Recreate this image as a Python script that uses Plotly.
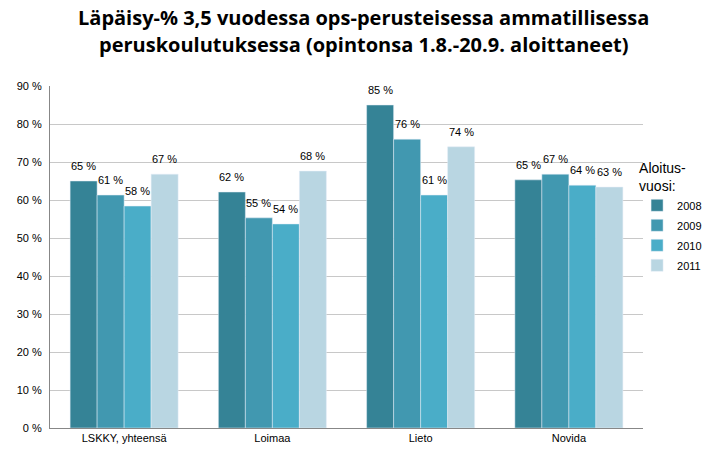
import plotly.graph_objects as go

categories = ["LSKKY, yhteensä", "Loimaa", "Lieto", "Novida"]
years = ["2008", "2009", "2010", "2011"]
values_2008 = [65.0, 62.1, 85.0, 65.3]
values_2009 = [61.3, 55.3, 76.0, 66.8]
values_2010 = [58.4, 53.7, 61.3, 63.9]
values_2011 = [66.8, 67.6, 74.0, 63.4]
series = [values_2008, values_2009, values_2010, values_2011]
colors = ["#358396", "#4198B0", "#4AADC8", "#B9D6E2"]
tick_vals = [0, 10, 20, 30, 40, 50, 60, 70, 80, 90]
tick_text = [f"{v} %" for v in tick_vals]
title_lines = ["Läpäisy-% 3,5 vuodessa ops-perusteisessa ammatillisessa",
               "peruskoulutuksessa (opintonsa 1.8.-20.9. aloittaneet)"]

font_family = "Liberation Sans, Arial, sans-serif"
title_family = "Open Sans, sans-serif"

W, H = 718, 455
ML, MR, MT, MB = 50, 75, 86, 27
plot_h = H - MT - MB
plot_w = W - ML - MR
bar_px = 27

fig = go.Figure()
annotations = []
for i, (year, vals, col) in enumerate(zip(years, series, colors)):
    fig.add_trace(go.Bar(
        x=categories, y=vals, name=year, marker_color=col,
        legendgroup=year,
    ))
    for cat, v in zip(categories, vals):
        annotations.append(dict(
            x=cat, y=v, xref="x", yref="y", text=f"{round(v)} %",
            showarrow=False, yanchor="bottom", yshift=7,
            xshift=(i - 1.5) * bar_px,
            font=dict(size=11, color="#000000", family=font_family),
        ))

title_y_px = [17, 45]  # line centers in page pixels
for line, ypx in zip(title_lines, title_y_px):
    annotations.append(dict(
        x=(363 - ML) / plot_w, y=1 + (MT - ypx) / plot_h,
        xref="paper", yref="paper", text=f"<b>{line}</b>",
        showarrow=False, xanchor="center", yanchor="middle",
        font=dict(size=20, family=title_family, color="#000000"),
    ))

fig.update_layout(
    width=W, height=H,
    margin=dict(l=ML, r=MR, t=MT, b=MB, autoexpand=False),
    paper_bgcolor="white", plot_bgcolor="white",
    barmode="group", bargap=0.2715, bargroupgap=0,
    font=dict(family=font_family, size=11, color="#000000"),
    annotations=annotations,
    legend=dict(
        title=dict(text="Aloitus-<br>vuosi:", font=dict(size=14)),
        x=0.99, xanchor="left", y=0.80, yanchor="top",
        font=dict(size=11), itemwidth=30, tracegroupgap=1,
        bgcolor="rgba(0,0,0,0)",
    ),
    xaxis=dict(
        showline=True, linecolor="#878787", linewidth=1,
        ticks="", tickfont=dict(size=11),
    ),
    yaxis=dict(
        range=[0, 90], tickvals=tick_vals, ticktext=tick_text,
        showgrid=True, gridcolor="#C8C8C8", gridwidth=1,
        showline=True, linecolor="#878787", linewidth=1,
        ticks="outside", ticklen=5, tickcolor="rgba(0,0,0,0)",
        tickfont=dict(size=11), zeroline=False,
    ),
)

fig.write_html("out.html", config={"displayModeBar": False},
               post_script="document.body.style.margin='0';")
